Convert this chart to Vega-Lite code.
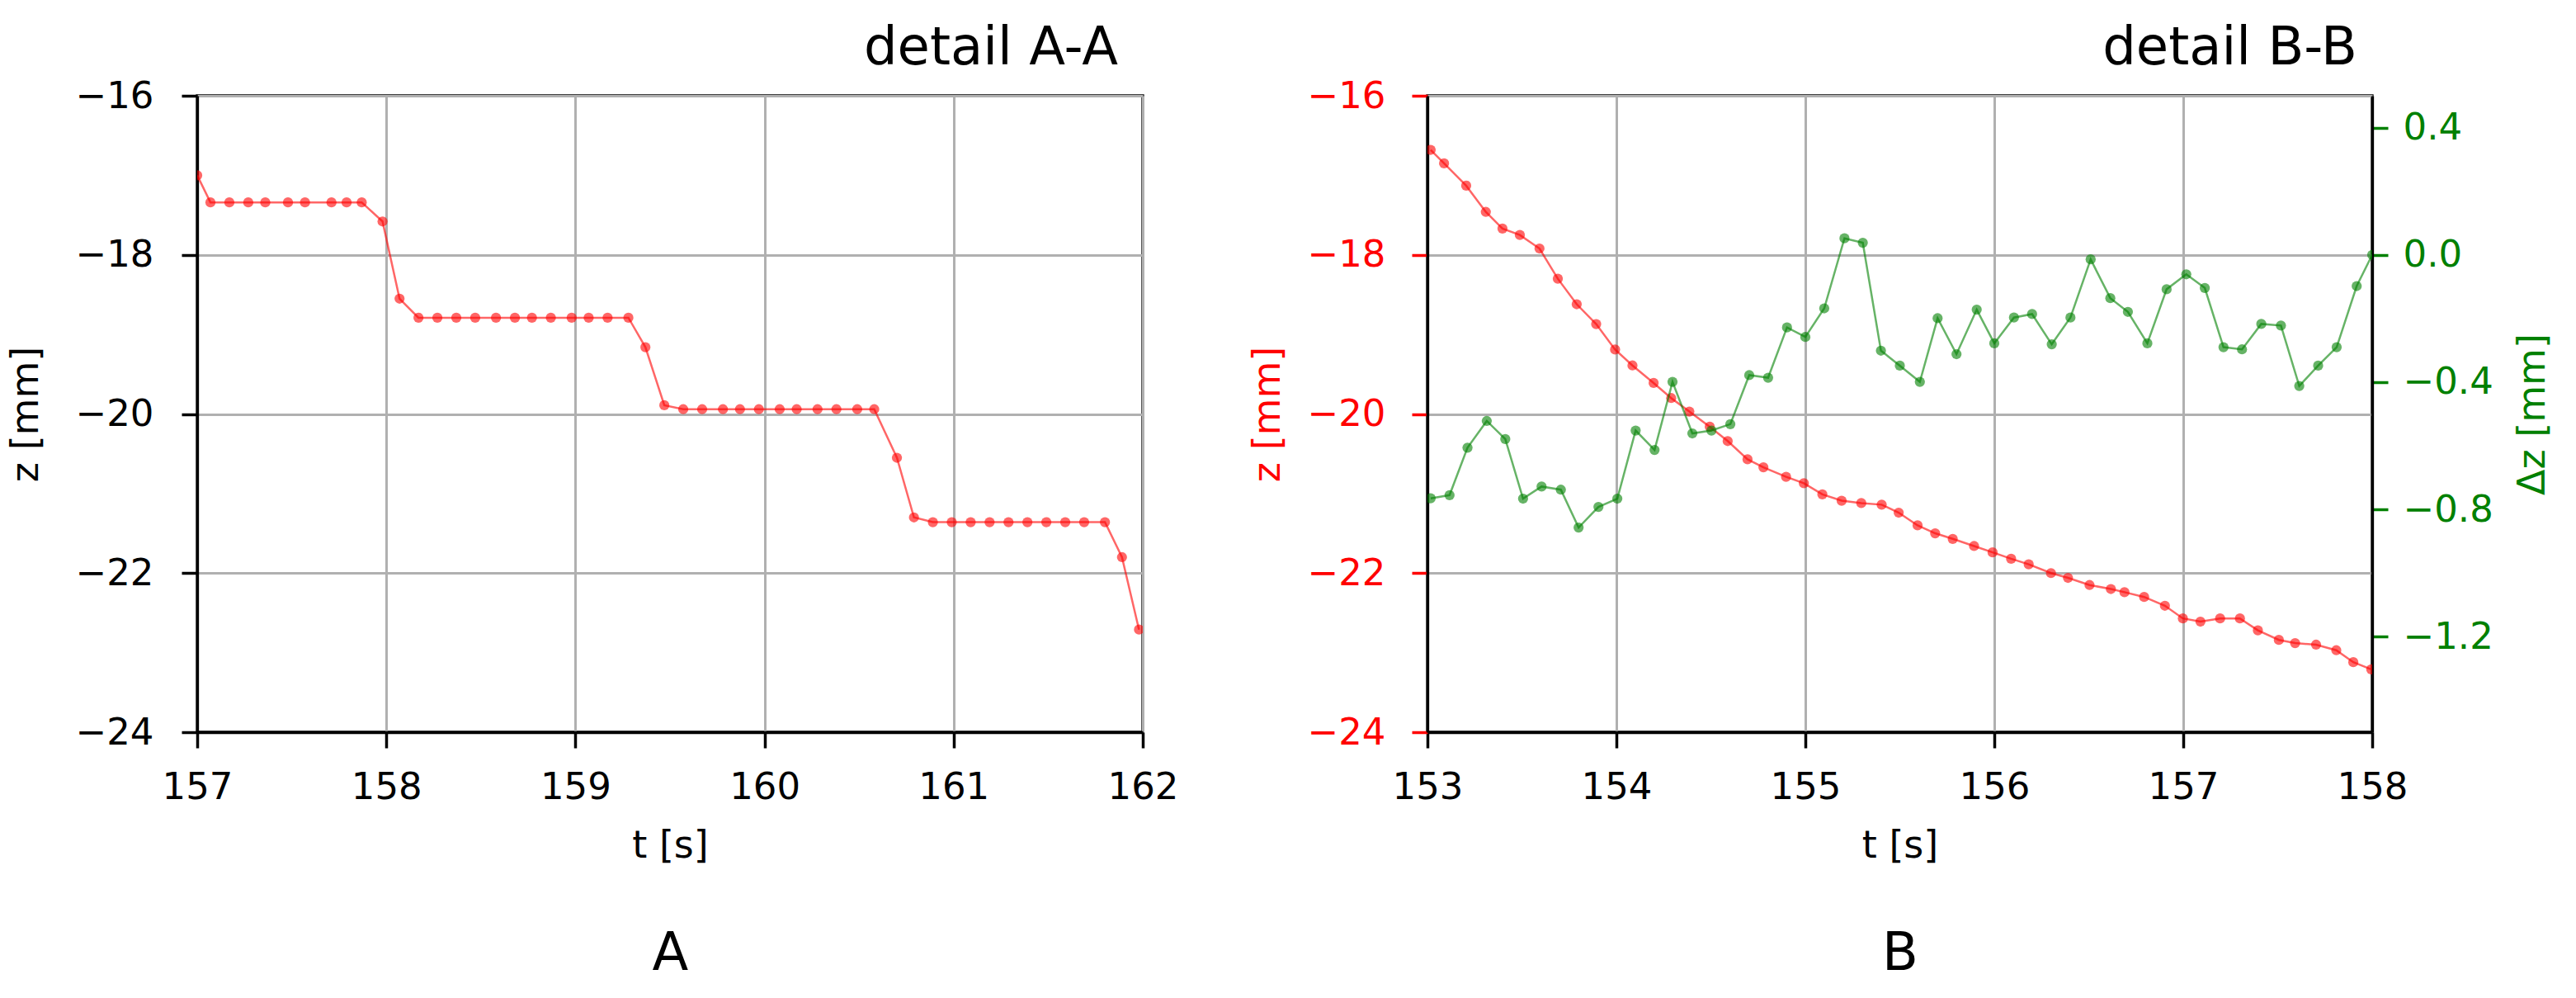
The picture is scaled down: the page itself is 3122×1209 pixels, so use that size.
{
  "$schema": "https://vega.github.io/schema/vega-lite/v6.json",
  "padding": {"left": 6, "top": 25, "right": 5, "bottom": 5},
  "background": "white",
  "config": {
    "font": "DejaVu Sans",
    "view": {"stroke": "black", "strokeWidth": 3.3},
    "title": {"font": "DejaVu Sans", "fontSize": 64, "fontWeight": "normal", "color": "black"},
    "axis": {
      "labelFont": "DejaVu Sans", "titleFont": "DejaVu Sans",
      "labelFontSize": 45, "titleFontSize": 46, "titleFontWeight": "normal",
      "labelColor": "black", "titleColor": "black",
      "tickColor": "black", "tickSize": 19, "tickWidth": 3.5,
      "domainColor": "black", "domainWidth": 3.3,
      "gridColor": "#b0b0b0", "gridWidth": 3, "gridOpacity": 1,
      "labelFlush": false, "labelOverlap": false
    },
    "axisX": {"labelPadding": 25, "titlePadding": 26},
    "axisY": {"labelPadding": 34, "titlePadding": 36},
    "concat": {"spacing": 81}
  },
  "datasets": {
    "A": [
      {"t": 157.0, "z": -17.0}, {"t": 157.07, "z": -17.34}, {"t": 157.17, "z": -17.34}, {"t": 157.27, "z": -17.34},
      {"t": 157.36, "z": -17.34}, {"t": 157.48, "z": -17.34}, {"t": 157.57, "z": -17.34}, {"t": 157.71, "z": -17.34},
      {"t": 157.79, "z": -17.34}, {"t": 157.87, "z": -17.34}, {"t": 157.98, "z": -17.58}, {"t": 158.07, "z": -18.55},
      {"t": 158.17, "z": -18.79}, {"t": 158.27, "z": -18.79}, {"t": 158.37, "z": -18.79}, {"t": 158.47, "z": -18.79},
      {"t": 158.58, "z": -18.79}, {"t": 158.68, "z": -18.79}, {"t": 158.77, "z": -18.79}, {"t": 158.87, "z": -18.79},
      {"t": 158.98, "z": -18.79}, {"t": 159.07, "z": -18.79}, {"t": 159.17, "z": -18.79}, {"t": 159.28, "z": -18.79},
      {"t": 159.37, "z": -19.16}, {"t": 159.47, "z": -19.89}, {"t": 159.57, "z": -19.94}, {"t": 159.67, "z": -19.94},
      {"t": 159.78, "z": -19.94}, {"t": 159.87, "z": -19.94}, {"t": 159.97, "z": -19.94}, {"t": 160.08, "z": -19.94},
      {"t": 160.17, "z": -19.94}, {"t": 160.28, "z": -19.94}, {"t": 160.38, "z": -19.94}, {"t": 160.49, "z": -19.94},
      {"t": 160.58, "z": -19.94}, {"t": 160.70, "z": -20.55}, {"t": 160.79, "z": -21.30}, {"t": 160.89, "z": -21.36},
      {"t": 160.99, "z": -21.36}, {"t": 161.09, "z": -21.36}, {"t": 161.19, "z": -21.36}, {"t": 161.29, "z": -21.36},
      {"t": 161.39, "z": -21.36}, {"t": 161.49, "z": -21.36}, {"t": 161.59, "z": -21.36}, {"t": 161.69, "z": -21.36},
      {"t": 161.80, "z": -21.36}, {"t": 161.89, "z": -21.80}, {"t": 161.98, "z": -22.71}
    ],
    "Bz": [
      {"t": 153.017, "z": -16.68}, {"t": 153.088, "z": -16.85}, {"t": 153.205, "z": -17.13}, {"t": 153.309, "z": -17.46},
      {"t": 153.397, "z": -17.67}, {"t": 153.489, "z": -17.75}, {"t": 153.593, "z": -17.92}, {"t": 153.69, "z": -18.30},
      {"t": 153.79, "z": -18.62}, {"t": 153.893, "z": -18.87}, {"t": 153.993, "z": -19.19}, {"t": 154.085, "z": -19.39},
      {"t": 154.197, "z": -19.61}, {"t": 154.29, "z": -19.80}, {"t": 154.386, "z": -19.97}, {"t": 154.494, "z": -20.16},
      {"t": 154.589, "z": -20.34}, {"t": 154.694, "z": -20.57}, {"t": 154.778, "z": -20.67}, {"t": 154.898, "z": -20.79},
      {"t": 154.992, "z": -20.87}, {"t": 155.09, "z": -21.01}, {"t": 155.192, "z": -21.09}, {"t": 155.296, "z": -21.12},
      {"t": 155.404, "z": -21.14}, {"t": 155.494, "z": -21.24}, {"t": 155.594, "z": -21.40}, {"t": 155.687, "z": -21.50},
      {"t": 155.78, "z": -21.57}, {"t": 155.893, "z": -21.66}, {"t": 155.991, "z": -21.74}, {"t": 156.089, "z": -21.82},
      {"t": 156.182, "z": -21.89}, {"t": 156.30, "z": -22.00}, {"t": 156.39, "z": -22.06}, {"t": 156.504, "z": -22.15},
      {"t": 156.617, "z": -22.20}, {"t": 156.689, "z": -22.24}, {"t": 156.793, "z": -22.30}, {"t": 156.903, "z": -22.41},
      {"t": 156.998, "z": -22.57}, {"t": 157.091, "z": -22.61}, {"t": 157.195, "z": -22.57}, {"t": 157.30, "z": -22.57},
      {"t": 157.395, "z": -22.72}, {"t": 157.506, "z": -22.84}, {"t": 157.592, "z": -22.88}, {"t": 157.703, "z": -22.90},
      {"t": 157.81, "z": -22.97}, {"t": 157.90, "z": -23.12}, {"t": 157.995, "z": -23.21}
    ],
    "Bd": [
      {"t": 153.017, "dz": -0.765}, {"t": 153.117, "dz": -0.755}, {"t": 153.212, "dz": -0.606}, {"t": 153.314, "dz": -0.522},
      {"t": 153.412, "dz": -0.579}, {"t": 153.506, "dz": -0.766}, {"t": 153.604, "dz": -0.728}, {"t": 153.706, "dz": -0.738},
      {"t": 153.80, "dz": -0.857}, {"t": 153.905, "dz": -0.792}, {"t": 154.005, "dz": -0.766}, {"t": 154.102, "dz": -0.552},
      {"t": 154.202, "dz": -0.613}, {"t": 154.297, "dz": -0.399}, {"t": 154.402, "dz": -0.561}, {"t": 154.503, "dz": -0.552},
      {"t": 154.603, "dz": -0.532}, {"t": 154.703, "dz": -0.378}, {"t": 154.803, "dz": -0.386}, {"t": 154.903, "dz": -0.228},
      {"t": 155.0, "dz": -0.258}, {"t": 155.10, "dz": -0.168}, {"t": 155.207, "dz": 0.052}, {"t": 155.304, "dz": 0.038},
      {"t": 155.40, "dz": -0.301}, {"t": 155.50, "dz": -0.348}, {"t": 155.606, "dz": -0.399}, {"t": 155.70, "dz": -0.199},
      {"t": 155.80, "dz": -0.312}, {"t": 155.907, "dz": -0.172}, {"t": 156.0, "dz": -0.278}, {"t": 156.104, "dz": -0.197},
      {"t": 156.2, "dz": -0.186}, {"t": 156.304, "dz": -0.281}, {"t": 156.403, "dz": -0.197}, {"t": 156.51, "dz": -0.014},
      {"t": 156.614, "dz": -0.136}, {"t": 156.707, "dz": -0.179}, {"t": 156.81, "dz": -0.278}, {"t": 156.912, "dz": -0.108},
      {"t": 157.016, "dz": -0.061}, {"t": 157.114, "dz": -0.104}, {"t": 157.213, "dz": -0.290}, {"t": 157.311, "dz": -0.297},
      {"t": 157.413, "dz": -0.217}, {"t": 157.517, "dz": -0.222}, {"t": 157.614, "dz": -0.412}, {"t": 157.714, "dz": -0.348},
      {"t": 157.812, "dz": -0.290}, {"t": 157.918, "dz": -0.098}, {"t": 158.0, "dz": 0.0}
    ]
  },
  "hconcat": [
    {
      "width": 1146, "height": 771,
      "title": {"text": "detail A-A", "anchor": "end", "frame": "group", "baseline": "alphabetic", "offset": -48, "dx": -30},
      "data": {"name": "A"},
      "layer": [
        {
          "mark": {"type": "line", "color": "red", "strokeWidth": 2.5, "opacity": 0.6, "clip": true},
          "encoding": {
            "x": {"field": "t", "type": "quantitative", "scale": {"domain": [157, 162], "nice": false, "zero": false},
                  "axis": {"title": "t [s]", "values": [157, 158, 159, 160, 161, 162], "grid": true, "format": "d"}},
            "y": {"field": "z", "type": "quantitative", "scale": {"domain": [-24, -16], "nice": false, "zero": false},
                  "axis": {"title": "z [mm]", "values": [-24, -22, -20, -18, -16], "grid": true, "format": "d"}}
          }
        },
        {
          "mark": {"type": "circle", "color": "red", "size": 150, "opacity": 0.6, "clip": true},
          "encoding": {
            "x": {"field": "t", "type": "quantitative", "scale": {"domain": [157, 162], "nice": false, "zero": false},
                  "axis": {"title": "A", "orient": "bottom", "labels": false, "ticks": false, "domain": false, "grid": false,
                           "titleFontSize": 64, "titlePadding": 236}},
            "y": {"field": "z", "type": "quantitative", "scale": {"domain": [-24, -16], "nice": false, "zero": false},
                  "axis": {"title": "z [mm]", "values": [-24, -22, -20, -18, -16], "grid": true, "format": "d"}}
          }
        }
      ],
      "resolve": {"axis": {"x": "independent"}}
    },
    {
      "width": 1145, "height": 771,
      "title": {"text": "detail B-B", "anchor": "end", "frame": "group", "baseline": "alphabetic", "offset": -48, "dx": -18},
      "layer": [
        {
          "data": {"name": "Bz"},
          "mark": {"type": "line", "color": "red", "strokeWidth": 2.5, "opacity": 0.6, "clip": true},
          "encoding": {
            "x": {"field": "t", "type": "quantitative", "scale": {"domain": [153, 158], "nice": false, "zero": false},
                  "axis": {"title": "t [s]", "values": [153, 154, 155, 156, 157, 158], "grid": true, "format": "d"}},
            "y": {"field": "z", "type": "quantitative", "scale": {"domain": [-24, -16], "nice": false, "zero": false},
                  "axis": {"title": "z [mm]", "orient": "left", "values": [-24, -22, -20, -18, -16], "grid": true, "format": "d",
                           "labelColor": "red", "titleColor": "red", "tickColor": "red", "labelPadding": 32, "titlePadding": 24}}
          }
        },
        {
          "data": {"name": "Bz"},
          "mark": {"type": "circle", "color": "red", "size": 150, "opacity": 0.6, "clip": true},
          "encoding": {
            "x": {"field": "t", "type": "quantitative", "scale": {"domain": [153, 158], "nice": false, "zero": false},
                  "axis": {"title": "B", "orient": "bottom", "labels": false, "ticks": false, "domain": false, "grid": false,
                           "titleFontSize": 64, "titlePadding": 236}},
            "y": {"field": "z", "type": "quantitative", "scale": {"domain": [-24, -16], "nice": false, "zero": false}, "axis": null}
          }
        },
        {
          "data": {"name": "Bd"},
          "mark": {"type": "line", "color": "green", "strokeWidth": 2.5, "opacity": 0.6, "clip": true},
          "encoding": {
            "x": {"field": "t", "type": "quantitative", "scale": {"domain": [153, 158], "nice": false, "zero": false}, "axis": null},
            "y": {"field": "dz", "type": "quantitative", "scale": {"domain": [-1.5, 0.5], "nice": false, "zero": false},
                  "axis": {"title": "Δz [mm]", "orient": "right", "values": [-1.2, -0.8, -0.4, 0.0, 0.4], "grid": false, "format": ".1f",
                           "labelColor": "green", "titleColor": "green", "tickColor": "green", "labelPadding": 18,
                           "titleAngle": 270, "titleBaseline": "top", "titlePadding": 26}}
          }
        },
        {
          "data": {"name": "Bd"},
          "mark": {"type": "circle", "color": "green", "size": 150, "opacity": 0.6, "clip": true},
          "encoding": {
            "x": {"field": "t", "type": "quantitative", "scale": {"domain": [153, 158], "nice": false, "zero": false}, "axis": null},
            "y": {"field": "dz", "type": "quantitative", "scale": {"domain": [-1.5, 0.5], "nice": false, "zero": false}, "axis": null}
          }
        }
      ],
      "resolve": {"scale": {"y": "independent"}, "axis": {"x": "independent", "y": "independent"}}
    }
  ]
}
